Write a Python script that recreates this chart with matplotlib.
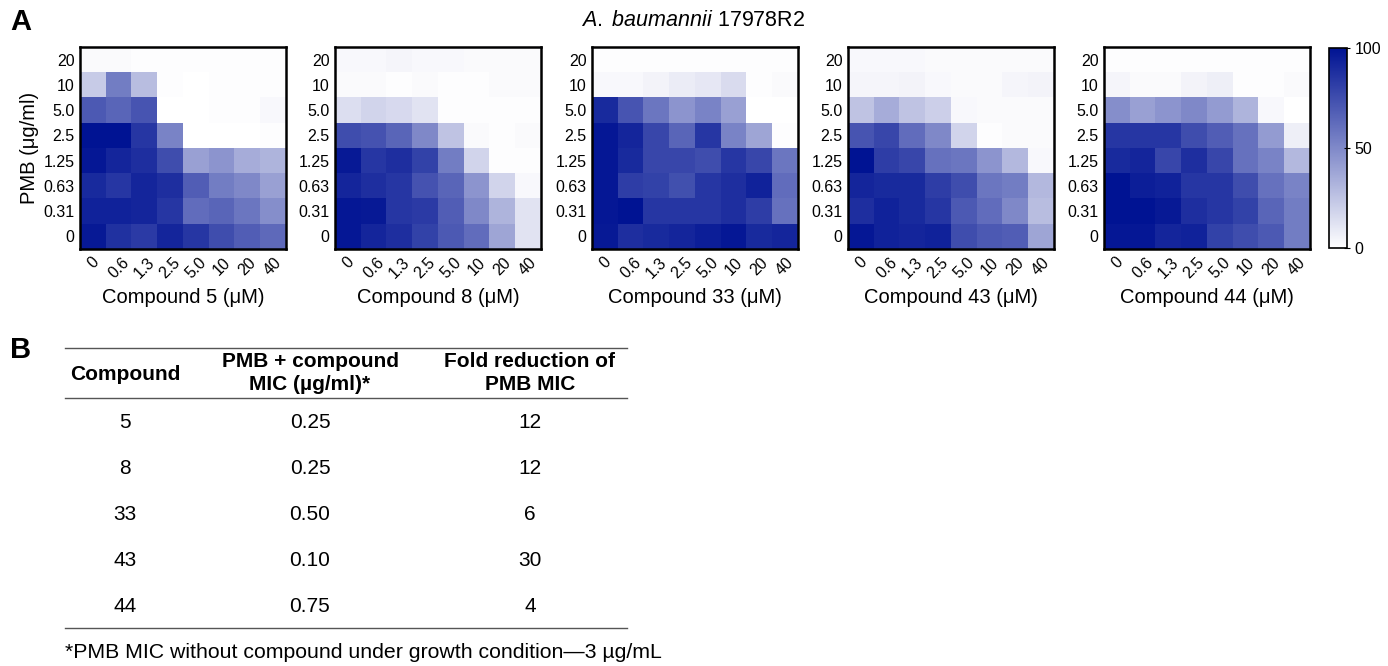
import numpy as np
import matplotlib
matplotlib.use("Agg")
import matplotlib.pyplot as plt
from matplotlib.colors import LinearSegmentedColormap

plt.rcParams['font.family'] = ['Liberation Sans', 'DejaVu Sans']
plt.rcParams['mathtext.fontset'] = 'custom'
plt.rcParams['mathtext.it'] = 'Liberation Sans:italic'
plt.rcParams['mathtext.rm'] = 'Liberation Sans'

compound_conc = ["0", "0.6", "1.3", "2.5", "5.0", "10", "20", "40"]
pmb_conc = ["20", "10", "5.0", "2.5", "1.25", "0.63", "0.31", "0"]  # top to bottom
compounds = ["5", "8", "33", "43", "44"]

growth_c5 = [
    [2, 2, 1, 1, 1, 1, 1, 1],
    [22, 55, 28, 1, 0, 1, 1, 1],
    [70, 65, 72, 0, 0, 1, 1, 3],
    [100, 100, 85, 52, 0, 0, 0, 1],
    [98, 92, 88, 75, 40, 45, 35, 32],
    [90, 85, 92, 88, 68, 55, 50, 40],
    [93, 93, 92, 85, 62, 65, 58, 48],
    [97, 87, 83, 92, 85, 75, 68, 63],
]
growth_c8 = [
    [3, 3, 4, 3, 3, 2, 2, 2],
    [2, 2, 1, 2, 1, 1, 2, 2],
    [14, 18, 16, 12, 1, 1, 1, 1],
    [75, 73, 65, 50, 25, 2, 1, 2],
    [97, 85, 88, 80, 55, 18, 1, 1],
    [92, 88, 85, 73, 65, 45, 18, 3],
    [98, 97, 85, 83, 68, 50, 32, 12],
    [98, 92, 88, 80, 70, 62, 38, 12],
]
growth_c33 = [
    [1, 1, 1, 1, 1, 1, 1, 1],
    [3, 3, 5, 8, 10, 15, 1, 2],
    [90, 72, 58, 45, 52, 40, 0, 0],
    [98, 92, 78, 65, 85, 52, 38, 1],
    [98, 90, 78, 78, 75, 85, 78, 58],
    [98, 82, 80, 74, 85, 88, 93, 62],
    [98, 100, 85, 85, 85, 88, 82, 60],
    [97, 88, 90, 92, 95, 98, 90, 92],
]
growth_c43 = [
    [3, 3, 3, 2, 2, 2, 2, 2],
    [4, 4, 5, 3, 2, 2, 4, 5],
    [25, 35, 25, 20, 3, 2, 2, 2],
    [72, 78, 62, 50, 18, 1, 2, 2],
    [100, 82, 78, 60, 58, 45, 30, 3],
    [92, 90, 90, 82, 75, 58, 55, 30],
    [88, 93, 90, 85, 70, 62, 50, 28],
    [98, 93, 92, 93, 75, 70, 68, 38],
]
growth_c44 = [
    [1, 1, 1, 1, 1, 1, 1, 1],
    [4, 2, 2, 5, 7, 1, 1, 2],
    [48, 40, 45, 50, 42, 32, 3, 0],
    [85, 85, 85, 75, 68, 60, 42, 7],
    [90, 92, 78, 88, 78, 60, 52, 30],
    [100, 95, 93, 85, 85, 75, 60, 52],
    [100, 100, 97, 88, 85, 80, 65, 55],
    [98, 98, 92, 93, 80, 75, 70, 55],
]
grids = [growth_c5, growth_c8, growth_c33, growth_c43, growth_c44]

table_compounds = ["5", "8", "33", "43", "44"]
table_mic = ["0.25", "0.25", "0.50", "0.10", "0.75"]
table_fold = ["12", "12", "6", "30", "4"]

W, H = 1388, 666
fig = plt.figure(figsize=(W / 100, H / 100), dpi=100)
cmap = LinearSegmentedColormap.from_list("wb", ["#ffffff", "#001393"])

lefts = [80, 335, 592, 848, 1104]
top_px, bot_px, wpx = 47, 249, 206
im = None
for i, (lx, g) in enumerate(zip(lefts, grids)):
    ax = fig.add_axes([lx / W, 1 - bot_px / H, wpx / W, (bot_px - top_px) / H])
    im = ax.imshow(np.array(g), cmap=cmap, vmin=0, vmax=100, aspect='auto',
                   interpolation='nearest')
    ax.set_xticks(range(8))
    ax.set_xticklabels(compound_conc, rotation=45, ha='center', va='top', fontsize=11.5)
    ax.set_yticks(range(8))
    ax.set_yticklabels(pmb_conc, fontsize=11.5)
    ax.tick_params(length=0, pad=4)
    for s in ax.spines.values():
        s.set_linewidth(1.8)
    ax.set_xlabel(f"Compound {compounds[i]} (μM)", fontsize=14.5, labelpad=5)
    if i == 0:
        ax.set_ylabel("PMB (μg/ml)", fontsize=14.5, labelpad=3)

cax = fig.add_axes([1329 / W, 1 - 248 / H, 18 / W, 200 / H])
cb = fig.colorbar(im, cax=cax, ticks=[0, 50, 100])
cb.ax.tick_params(labelsize=11.5, length=4, direction='inout')
cb.outline.set_linewidth(1.2)

fig.text(693 / W, 1 - 20 / H, "$\\it{A.\\ baumannii}$ 17978R2", ha='center', va='center',
         fontsize=15.5)
fig.text(10 / W, 1 - 22 / H, "A", fontsize=21, fontweight='bold', ha='left', va='center')
fig.text(10 / W, 1 - 350 / H, "B", fontsize=21, fontweight='bold', ha='left', va='center')

# Table
x0, x1 = 65 / W, 627 / W
for ypx in [348, 398, 628]:
    fig.add_artist(plt.Line2D([x0, x1], [1 - ypx / H] * 2, color='#555555', lw=1.0))
colx = [125, 310, 530]
fs = 15
fig.text(colx[0] / W, 1 - 375 / H, "Compound", ha='center', va='center', fontsize=fs,
         fontweight='bold')
fig.text(colx[1] / W, 1 - 373 / H, "PMB + compound\nMIC (µg/ml)*", ha='center', va='center',
         fontsize=fs, fontweight='bold', linespacing=1.25)
fig.text(colx[2] / W, 1 - 373 / H, "Fold reduction of\nPMB MIC", ha='center', va='center',
         fontsize=fs, fontweight='bold', linespacing=1.25)
rows_y = [423, 469, 515, 561, 607]
for yy, c, m, f in zip(rows_y, table_compounds, table_mic, table_fold):
    fig.text(colx[0] / W, 1 - yy / H, c, ha='center', va='center', fontsize=fs)
    fig.text(colx[1] / W, 1 - yy / H, m, ha='center', va='center', fontsize=fs)
    fig.text(colx[2] / W, 1 - yy / H, f, ha='center', va='center', fontsize=fs)
fig.text(65 / W, 1 - 653 / H, "*PMB MIC without compound under growth condition\u20143 µg/mL",
         ha='left', va='center', fontsize=15.3)

fig.savefig("out.png", dpi=100)
